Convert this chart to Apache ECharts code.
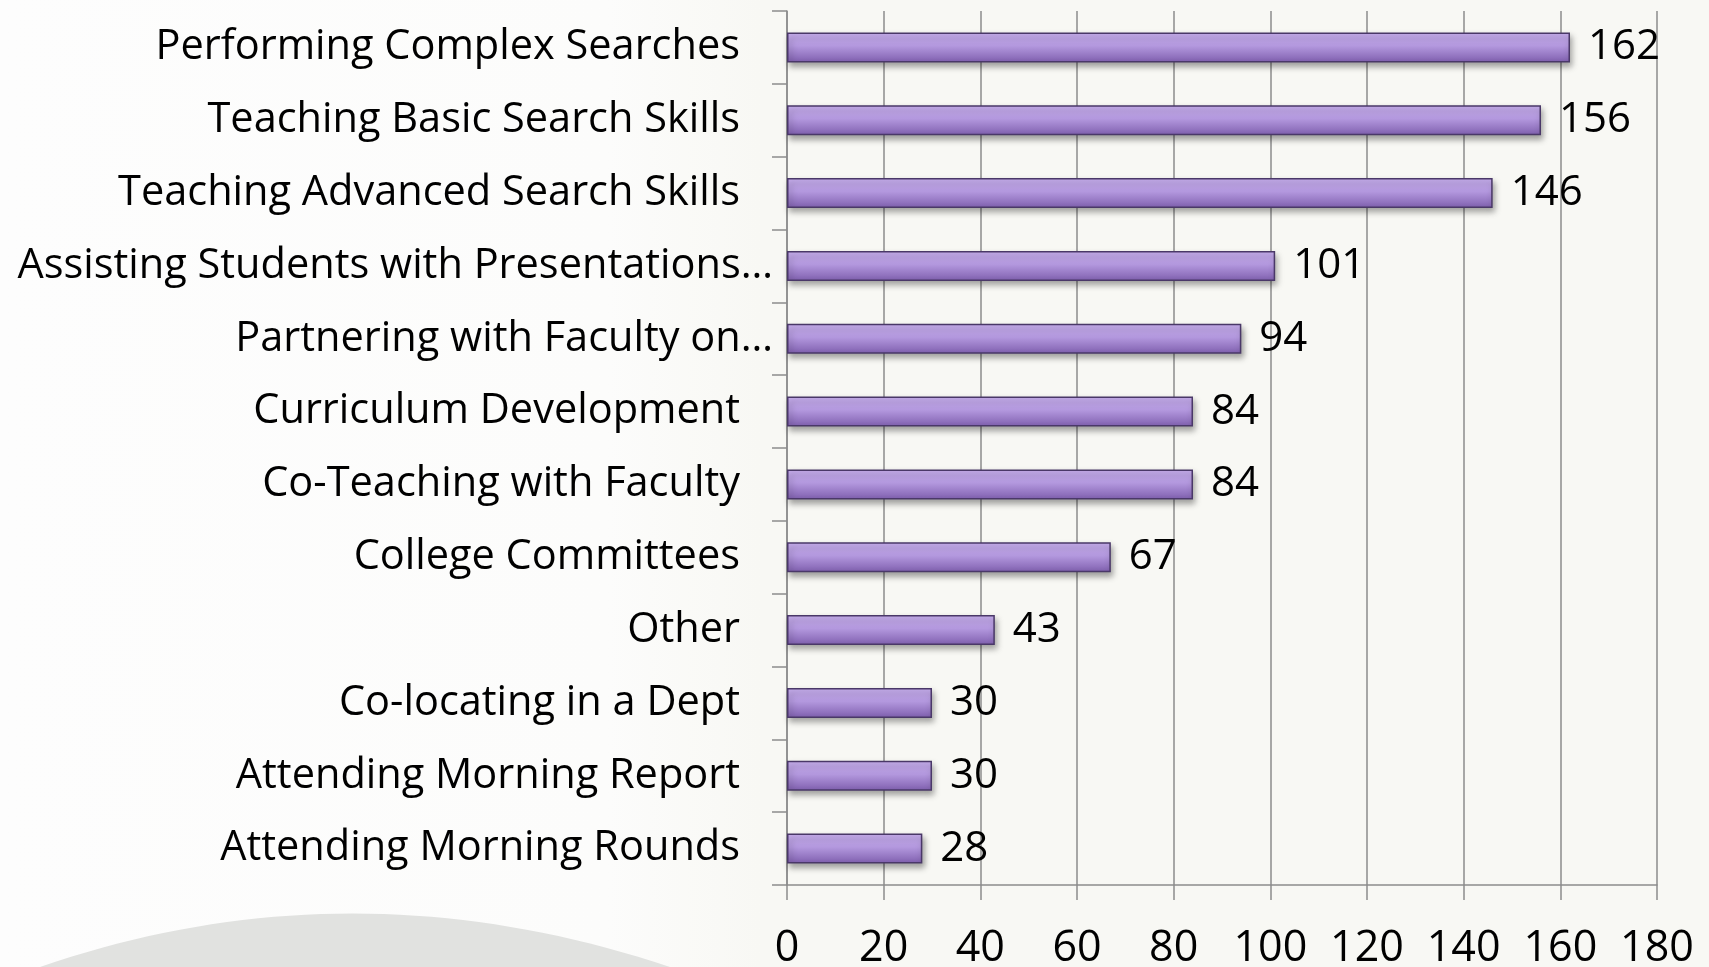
<!DOCTYPE html>
<html>
<head>
<meta charset="utf-8">
<script src="https://cdn.jsdelivr.net/npm/echarts@6/dist/echarts.min.js"></script>
<style>
	html, body { margin: 0; padding: 0; background: #f8f8f4; }
	#chart { width: 1709px; height: 967px; }
</style>
</head>
<body>
<div id="chart"></div>
<script>
// categories top to bottom, as on the slide
var categories = [
	'Performing Complex Searches',
	'Teaching Basic Search Skills',
	'Teaching Advanced Search Skills',
	'Assisting Students with Presentations…',
	'Partnering with Faculty on…',
	'Curriculum Development',
	'Co-Teaching with Faculty',
	'College Committees',
	'Other',
	'Co-locating in a Dept',
	'Attending Morning Report',
	'Attending Morning Rounds'
];
var counts = [162, 156, 146, 101, 94, 84, 84, 67, 43, 30, 30, 28];
var xTicks = [0, 20, 40, 60, 80, 100, 120, 140, 160, 180];

var font = '"Open Sans", sans-serif';
var gridColor = '#8c8c8c';

function linear(x2, y2, stops) {
	return { type: 'linear', x: 0, y: 0, x2: x2, y2: y2, colorStops: stops };
}

// outline of the grey swoosh in the slide background (quadratic curve)
var swoosh = [];
for (var i = 0; i <= 40; i++) {
	var t = i / 40;
	swoosh.push([
		(1 - t) * (1 - t) * 40 + 2 * t * (1 - t) * 350 + t * t * 670,
		(1 - t) * (1 - t) * 967 + 2 * t * (1 - t) * 860 + t * t * 967
	]);
}

var chart = echarts.init(document.getElementById('chart'));
var option = {
	backgroundColor: '#f8f8f4',
	animation: false,
	graphic: [
		{
			// whiter left part of the slide background
			type: 'rect', z: -10, silent: true,
			shape: { x: 0, y: 0, width: 760, height: 967 },
			style: {
				fill: linear(1, 0, [
					{ offset: 0, color: '#fdfdfd' },
					{ offset: 0.8, color: '#fcfcfb' },
					{ offset: 1, color: '#f8f8f4' }
				])
			}
		},
		{
			type: 'polygon', z: -9, silent: true,
			shape: { points: swoosh },
			style: { fill: '#e1e2e0' }
		}
	],
	grid: { left: 787, right: 52, top: 11, bottom: 82, containLabel: false, outerBoundsMode: 'none' },
	xAxis: {
		type: 'value',
		min: xTicks[0],
		max: xTicks[xTicks.length - 1],
		interval: 20,
		axisLine: { show: true, lineStyle: { color: gridColor, width: 1.5 } },
		axisTick: { show: true, length: 15, lineStyle: { color: gridColor, width: 1.5 } },
		splitLine: { show: true, lineStyle: { color: gridColor, width: 1.5 } },
		axisLabel: { fontFamily: font, fontSize: 43, color: '#000', margin: 42 }
	},
	yAxis: {
		type: 'category',
		inverse: true,
		data: categories,
		axisLine: { show: true, lineStyle: { color: gridColor, width: 1.5 } },
		axisTick: { show: true, length: 15, lineStyle: { color: gridColor, width: 1.5 } },
		splitLine: { show: false },
		axisLabel: {
			margin: 14,
			formatter: function (v) {
				// truncated labels sit closer to the axis
				return v.slice(-1) === '…' ? '{t|' + v + '}' : '{n|' + v + '}';
			},
			rich: {
				n: { fontFamily: font, fontSize: 41.5, color: '#000', padding: [0, 33, 0, 0] },
				t: { fontFamily: font, fontSize: 41.5, color: '#000' }
			}
		}
	},
	series: [
		{
			type: 'bar',
			data: counts,
			barWidth: 30,
			itemStyle: {
				color: linear(0, 1, [
					{ offset: 0, color: '#c9b0ef' },
					{ offset: 0.45, color: '#b398de' },
					{ offset: 1, color: '#7f5fae' }
				]),
				borderColor: '#4a3868',
				borderWidth: 1.5,
				shadowColor: 'rgba(0,0,0,0.35)',
				shadowBlur: 6,
				shadowOffsetX: 2,
				shadowOffsetY: 4
			},
			label: {
				show: true,
				position: 'right',
				distance: 18,
				fontFamily: font,
				fontSize: 42,
				color: '#000'
			}
		}
	]
};
chart.setOption(option);
</script>
</body>
</html>
